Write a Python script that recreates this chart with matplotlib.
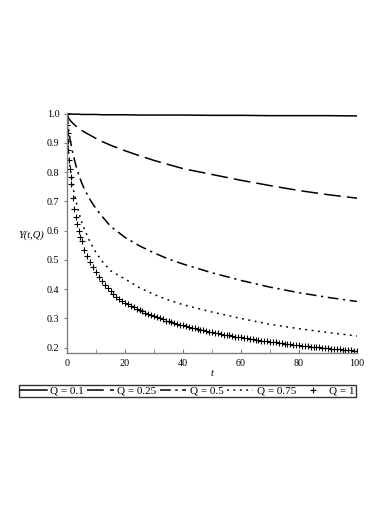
import matplotlib
matplotlib.use("Agg")
import matplotlib.pyplot as plt
from matplotlib.ticker import MultipleLocator

plt.rcParams['font.family'] = ['Liberation Serif', 'DejaVu Serif']

# ---- data ----
t_lines = [0, 0.5, 1, 2, 3, 4, 5, 6, 8, 10, 12, 15, 20, 25, 30, 35, 40, 50, 60, 70, 80, 90, 100]
y_q010 = [1.0, 0.999, 0.999, 0.998, 0.998, 0.998, 0.997, 0.997, 0.997, 0.997, 0.996, 0.996,
          0.996, 0.995, 0.995, 0.995, 0.995, 0.994, 0.994, 0.993, 0.993, 0.993, 0.992]
y_q025 = [1.0, 0.985, 0.978, 0.967, 0.958, 0.950, 0.943, 0.937, 0.926, 0.915, 0.905, 0.892,
          0.873, 0.856, 0.840, 0.826, 0.812, 0.792, 0.772, 0.754, 0.737, 0.723, 0.711]
y_q050 = [1.0, 0.950, 0.915, 0.865, 0.825, 0.792, 0.765, 0.742, 0.705, 0.675, 0.650, 0.615,
          0.577, 0.548, 0.524, 0.503, 0.486, 0.456, 0.430, 0.407, 0.388, 0.372, 0.358]
y_q075 = [1.0, 0.870, 0.820, 0.750, 0.705, 0.665, 0.632, 0.605, 0.560, 0.525, 0.497, 0.463,
          0.435, 0.405, 0.382, 0.363, 0.347, 0.322, 0.300, 0.280, 0.265, 0.252, 0.240]

t_q100 = [0, 0.1, 0.2, 0.35, 0.5, 0.75, 1, 1.25, 1.5, 2, 2.5, 3, 3.5, 4, 4.5, 5] + list(range(6, 101))
y_q100 = [1.0, 0.96, 0.935, 0.905, 0.875, 0.84, 0.81, 0.785, 0.76, 0.71, 0.675, 0.645, 0.622, 0.60, 0.58, 0.563,
          0.535, 0.512, 0.492, 0.475, 0.458, 0.443, 0.429, 0.416, 0.404, 0.393,
          0.383, 0.374, 0.366, 0.359, 0.354, 0.349, 0.343, 0.338, 0.333, 0.328,
          0.324, 0.319, 0.315, 0.311, 0.307, 0.304, 0.300, 0.297, 0.293, 0.290,
          0.287, 0.284, 0.281, 0.279, 0.276, 0.273, 0.271, 0.268, 0.266, 0.264,
          0.262, 0.259, 0.257, 0.255, 0.253, 0.251, 0.249, 0.247, 0.245, 0.244,
          0.242, 0.240, 0.238, 0.237, 0.235, 0.233, 0.232, 0.230, 0.229, 0.227,
          0.226, 0.224, 0.223, 0.222, 0.220, 0.219, 0.218, 0.216, 0.215, 0.214,
          0.213, 0.212, 0.210, 0.209, 0.208, 0.207, 0.206, 0.205, 0.204, 0.203,
          0.202, 0.201, 0.200, 0.199, 0.198, 0.197, 0.196, 0.195, 0.194, 0.193,
          0.192, 0.192, 0.191, 0.190, 0.189]

labels = ['Q = 0.1', 'Q = 0.25', 'Q = 0.5', 'Q = 0.75', 'Q = 1']
x_ticks = [0, 20, 40, 60, 80, 100]
y_ticks = [0.2, 0.3, 0.4, 0.5, 0.6, 0.7, 0.8, 0.9, 1.0]

fig = plt.figure(figsize=(3.92, 5.08), dpi=100)
ax = fig.add_axes([67/392, 1 - 353/508, 290/392, 240/508])

lw = 1.1
ax.plot(t_lines, y_q010, color='black', lw=lw, ls='-', label=labels[0])
ax.plot(t_lines, y_q025, color='black', lw=lw, ls=(0, (11, 4)), label=labels[1])
ax.plot(t_lines, y_q050, color='black', lw=lw, ls=(0, (7, 3, 1.5, 3)), label=labels[2])
ax.plot(t_lines, y_q075, color='black', lw=lw, ls=(0, (1.2, 3)), label=labels[3])
ax.plot(t_q100, y_q100, color='black', ls='none', marker='+', ms=3.8, mew=0.8, label=labels[4])

ax.set_xlim(0, 100)
ax.set_ylim(0.182, 1.002)
ax.set_xticks(x_ticks)
ax.xaxis.set_minor_locator(MultipleLocator(10))
ax.set_yticks(y_ticks)
ax.set_yticklabels([f"{v:.1f}" for v in y_ticks])

for s in ['top', 'right']:
    ax.spines[s].set_visible(False)
for s in ['left', 'bottom']:
    ax.spines[s].set_color('#808080')
    ax.spines[s].set_linewidth(1.0)

ax.tick_params(axis='x', which='both', direction='in', length=3, color='#808080',
               labelsize=7.3, pad=4)
ax.tick_params(axis='y', which='both', direction='out', length=2.5, color='#808080',
               labelsize=7.3, pad=3)

ax.set_xlabel('t', fontstyle='italic', fontsize=7.5, labelpad=1)
ax.text(-0.122, 0.49, 'Y(t,Q)', transform=ax.transAxes, fontstyle='italic',
        fontsize=7.5, ha='center', va='center')

leg = fig.legend(loc='center', bbox_to_anchor=(0.478, 1 - 391/508), ncol=5,
                 frameon=True, fancybox=False, fontsize=8, handlelength=2.4,
                 handletextpad=0.3, columnspacing=0.3, borderpad=0.1,
                 borderaxespad=0, markerscale=1)
leg.get_frame().set_edgecolor('black')
leg.get_frame().set_linewidth(1.0)

fig.savefig('out.png', dpi=100)
